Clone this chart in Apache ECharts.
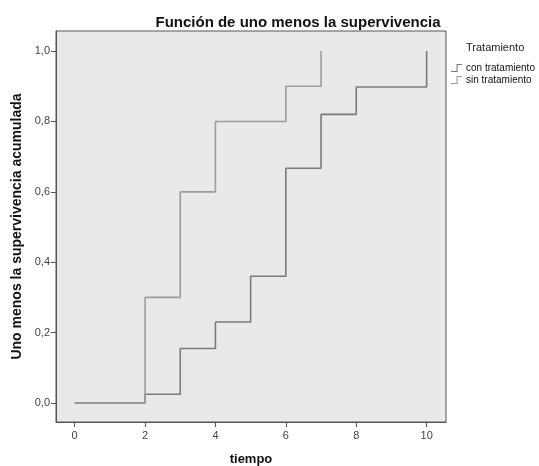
<!DOCTYPE html>
<html><head><meta charset="utf-8">
<script src="https://cdn.jsdelivr.net/npm/echarts@6/dist/echarts.min.js"></script>
<style>html,body{margin:0;padding:0;background:#fff}#c{width:539px;height:466px}</style>
</head><body><div id="c"></div>
<script>
const seriesNames = ['con tratamiento', 'sin tratamiento'];
const conTime = [0, 2, 3, 4, 5, 6, 7, 8, 10];
const conValue = [0, 0.025, 0.155, 0.23, 0.36, 0.667, 0.82, 0.898, 1.0];
const sinTime = [0, 2, 3, 4, 6, 7];
const sinValue = [0, 0.30, 0.60, 0.80, 0.90, 1.0];
const xTicks = [0, 2, 4, 6, 8, 10];
const yTicks = [0, 0.2, 0.4, 0.6, 0.8, 1.0];

const chart = echarts.init(document.getElementById('c'), null, {renderer: 'canvas'});
const pairs = (t, v) => t.map((x, i) => [x, v[i]]);
const stepIcon = 'path://M0,10 L8,10 L8,0 L16,0 L16,1.6 L9.6,1.6 L9.6,11.6 L0,11.6 Z';
chart.setOption({
  backgroundColor: '#fff',
  animation: false,
  title: [
    {text: 'Función de uno menos la supervivencia', left: 293, top: 10, textAlign: 'center',
     textStyle: {fontFamily: 'Liberation Sans', fontSize: 15, fontWeight: 'bold', color: '#111'}},
    {text: 'Tratamiento', left: 461, top: 37,
     textStyle: {fontFamily: 'Liberation Sans', fontSize: 11, fontWeight: 'normal', color: '#222'}}
  ],
  legend: {
    orient: 'vertical', left: 446, top: 58, itemWidth: 17, itemHeight: 8, itemGap: 2,
    data: [{name: seriesNames[0], icon: stepIcon}, {name: seriesNames[1], icon: stepIcon}],
    textStyle: {fontFamily: 'Liberation Sans', fontSize: 10, color: '#111', padding: [0, 0, 0, -4]}
  },
  grid: {left: 56, top: 31, right: 93, bottom: 44, show: true, backgroundColor: '#e9e9e9',
         borderColor: '#555', borderWidth: 1, outerBoundsMode: 'none', containLabel: false},
  xAxis: {
    type: 'value', min: -0.53, max: 10.55,
    name: 'tiempo', nameLocation: 'middle', nameGap: 31,
    nameTextStyle: {fontFamily: 'Liberation Sans', fontSize: 13, fontWeight: 'bold', color: '#111'},
    axisLine: {show: true, onZero: false, lineStyle: {color: '#555', width: 1}},
    axisTick: {show: true, inside: false, length: 5, lineStyle: {color: '#555'}, customValues: xTicks},
    axisLabel: {customValues: xTicks, fontFamily: 'Liberation Sans', fontSize: 11, color: '#444', margin: 8},
    splitLine: {show: false}
  },
  yAxis: {
    type: 'value', min: -0.054, max: 1.057,
    name: 'Uno menos la supervivencia acumulada', nameLocation: 'middle', nameGap: 31,
    nameTextStyle: {fontFamily: 'Liberation Sans', fontSize: 14, fontWeight: 'bold', color: '#111'},
    axisLine: {show: true, onZero: false, lineStyle: {color: '#555', width: 1}},
    axisTick: {show: true, inside: false, length: 5, lineStyle: {color: '#555'}, customValues: yTicks},
    axisLabel: {customValues: yTicks, fontFamily: 'Liberation Sans', fontSize: 11, color: '#444', margin: 6,
                formatter: v => v.toFixed(1).replace('.', ',')},
    splitLine: {show: false}
  },
  series: [
    {name: seriesNames[0], type: 'line', step: 'end', data: pairs(conTime, conValue),
     showSymbol: false, lineStyle: {color: '#7b7b7b', width: 1.6}, itemStyle: {color: '#7b7b7b'}},
    {name: seriesNames[1], type: 'line', step: 'end', data: pairs(sinTime, sinValue),
     showSymbol: false, lineStyle: {color: '#9c9c9c', width: 1.6}, itemStyle: {color: '#9c9c9c'}}
  ]
});
</script></body></html>
